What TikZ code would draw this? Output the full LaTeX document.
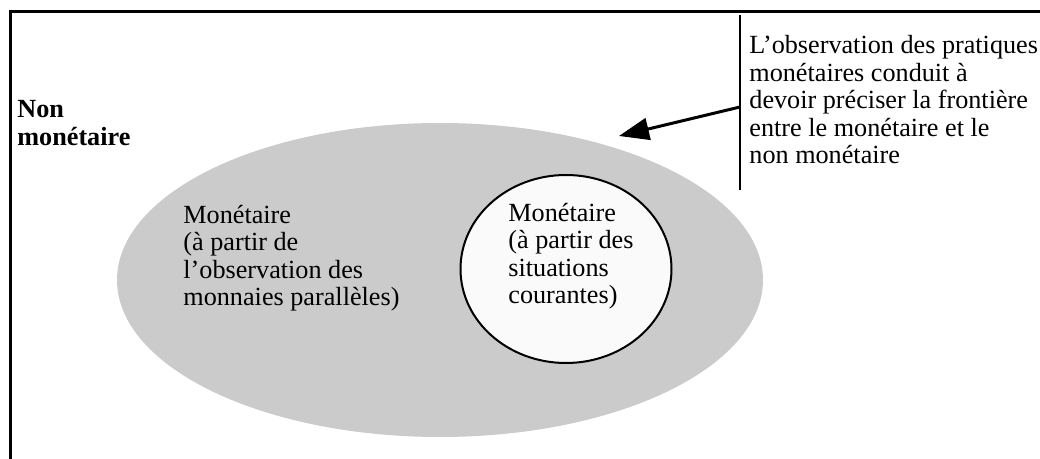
\documentclass[tikz,border=0pt]{standalone}
\usepackage{fontspec}
\setmainfont{Liberation Serif}
\usepackage{xcolor}
\usetikzlibrary{positioning,arrows.meta}
\definecolor{monfill}{RGB}{203,203,203}
\tikzset{
    txt/.style={anchor=west, align=left, inner sep=0pt, font=\fontsize{13.1}{13.75}\selectfont},
    frameline/.style={line width=1.5pt}
}

\begin{document}
\begin{tikzpicture}[x=0.5pt, y=-0.5pt]
    \useasboundingbox (0,0) rectangle (1040,459);
    \draw [frameline] (10,459) -- (10,11.5) -- (1040,11.5);
    \fill [monfill] (440,280) ellipse (323 and 157);
    \draw [line width=1pt, fill=white!98!black] (566,269) ellipse (105.5 and 94);
    \node (nonmon) [txt, font=\fontsize{13.1}{13.75}\selectfont\bfseries] at (17,123) {Non\\mon\'etaire};
    \node (parallel) [txt] at (183,258) {Mon\'etaire\\(\`a partir de\\l'observation des\\monnaies parall\`eles)};
    \node (current) [txt] at (508,256) {Mon\'etaire\\(\`a partir des\\situations\\courantes)};
    \node (note) [txt] at (749,100) {L'observation des pratiques\\mon\'etaires conduit \`a\\devoir pr\'eciser la fronti\`ere\\entre le mon\'etaire et le\\non mon\'etaire};
    \coordinate (ntop) at (740,15);
    \coordinate (nbot) at (740,190);
    \coordinate (nedge) at (740,107);
    \coordinate (border) at (619,136);
    \draw [line width=1.2pt] (ntop) -- (nbot);
    \draw [-{Triangle[length=15pt,width=11pt]}, line width=1.5pt] (nedge) -- (border);
\end{tikzpicture}
\end{document}
